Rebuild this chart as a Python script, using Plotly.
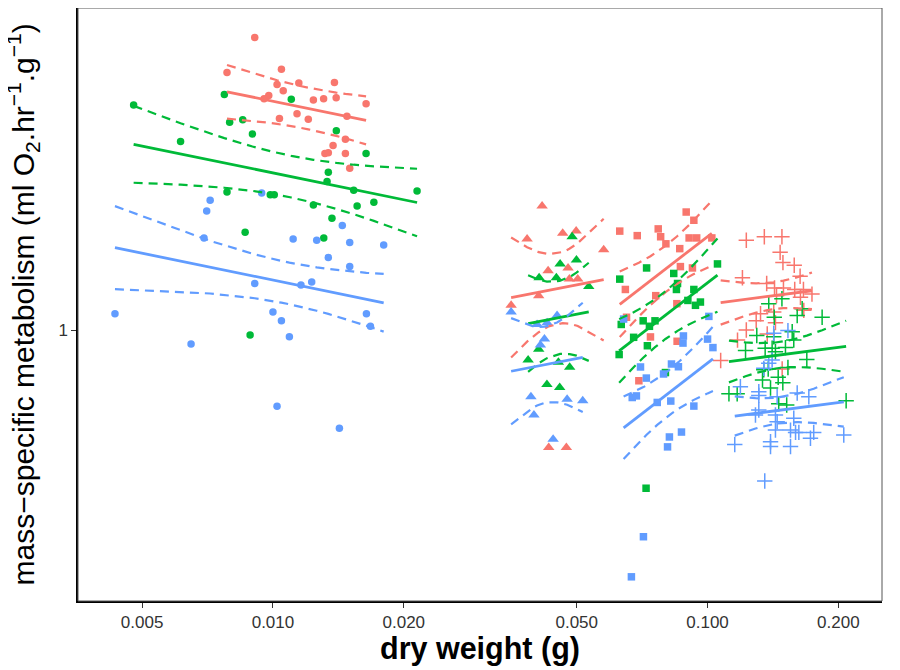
import numpy as np
import plotly.graph_objects as go

# ---------------- data: dry weight (g) and mass-specific metabolism ----------------
# species 1 (circles)
s1_red_x = [0.00908, 0.00784, 0.01046, 0.01022, 0.01056, 0.01147, 0.01385, 0.00978, 0.00954, 0.01239, 0.01308, 0.01398,
            0.01638, 0.0148, 0.01136, 0.01035, 0.01206, 0.01468, 0.01375, 0.01317, 0.01341, 0.01468, 0.01502]
s1_red_y = [4.72, 3.92, 3.99, 3.68, 3.56, 3.71, 3.72, 3.47, 3.41, 3.39, 3.41, 3.43,
            3.32, 3.11, 3.15, 3.07, 3.06, 2.75, 2.66, 2.55, 2.56, 2.55, 2.36]
s1_green_x = [0.00478, 0.00773, 0.01102, 0.00795, 0.00852, 0.00897, 0.00613, 0.01399, 0.01638, 0.01341, 0.01332, 0.01534,
              0.02146, 0.00784, 0.00986, 0.01007, 0.01239, 0.01562, 0.01707, 0.01367, 0.00863, 0.01309, 0.00886]
s1_green_y = [3.30, 3.49, 3.40, 3.01, 3.05, 2.83, 2.72, 2.88, 2.55, 2.31, 2.20, 2.10,
              2.09, 2.08, 2.05, 2.05, 1.94, 1.93, 1.97, 1.81, 1.68, 1.63, 0.974]
s1_blue_x = [0.00717, 0.00704, 0.00942, 0.00694, 0.01113, 0.01261, 0.01444, 0.01502, 0.01798, 0.01341, 0.01502, 0.00908,
             0.0116, 0.01228, 0.00433, 0.0100, 0.01046, 0.01641, 0.01676, 0.00648, 0.01091, 0.01022, 0.01422]
s1_blue_y = [1.99, 1.88, 2.07, 1.63, 1.62, 1.61, 1.74, 1.59, 1.57, 1.47, 1.40, 1.28,
             1.27, 1.29, 1.09, 1.10, 1.05, 1.09, 1.02, 0.928, 0.965, 0.667, 0.594]

# species 2 (triangles)
s2_red_x = [0.04162, 0.03844, 0.04642, 0.04985, 0.05768, 0.04297, 0.04776, 0.04809, 0.05027, 0.04088, 0.03532, 0.04311, 0.04733]
s2_red_y = [1.93, 1.62, 1.67, 1.69, 1.53, 1.37, 1.39, 1.31, 1.31, 1.20, 1.14, 0.536, 0.536]
s2_green_x = [0.0488, 0.04579, 0.04993, 0.04097, 0.04489, 0.05329, 0.04088, 0.03865, 0.04537, 0.04817, 0.0427, 0.04569]
s2_green_y = [1.64, 1.42, 1.45, 1.32, 1.32, 1.26, 0.903, 0.853, 0.843, 0.821, 0.749, 0.737]
s2_blue_x = [0.03532, 0.04506, 0.04053, 0.04274, 0.04214, 0.04125, 0.03923, 0.04752, 0.05162, 0.03986, 0.04412]
s2_blue_y = [1.10, 1.08, 1.03, 1.04, 0.953, 0.924, 0.702, 0.693, 0.687, 0.637, 0.560]

# species 3 (squares)
s3_red_x = [0.0893, 0.0930, 0.0628, 0.0689, 0.0770, 0.0780, 0.0802, 0.0907, 0.0944, 0.1023, 0.0863, 0.0866, 0.0923,
            0.0647, 0.0760, 0.0850, 0.0651, 0.0739, 0.0851, 0.0695]
s3_red_y = [1.87, 1.79, 1.69, 1.65, 1.71, 1.64, 1.58, 1.63, 1.63, 1.63, 1.54, 1.40, 1.39,
            1.24, 1.20, 1.15, 1.07, 0.964, 0.942, 0.764]
s3_green_x = [0.0724, 0.0628, 0.0836, 0.0853, 0.0848, 0.0930, 0.1054, 0.0901, 0.0963, 0.0938, 0.0711, 0.0735, 0.0757,
              0.0633, 0.0676, 0.0727, 0.0626, 0.0800, 0.0722]
s3_green_y = [1.39, 1.31, 1.35, 1.28, 1.24, 1.24, 1.42, 1.17, 1.16, 1.14, 1.05, 1.02, 1.05,
              1.03, 0.962, 0.920, 0.878, 0.798, 0.432]
s3_blue_x = [0.0641, 0.1007, 0.0880, 0.0878, 0.1000, 0.1029, 0.0701, 0.0723, 0.0826, 0.0857, 0.0792, 0.0671, 0.0686,
             0.0766, 0.0823, 0.0930, 0.0871, 0.0817, 0.0809, 0.0712, 0.0668]
s3_blue_y = [1.060, 1.075, 0.969, 0.933, 0.953, 0.911, 0.822, 0.775, 0.835, 0.823, 0.792, 0.699, 0.705,
             0.681, 0.686, 0.668, 0.582, 0.567, 0.538, 0.334, 0.270]

# species 4 (crosses)
s4_red_x = [0.1228, 0.1351, 0.1483, 0.1469, 0.1491, 0.1583, 0.1633, 0.1203, 0.1368, 0.1426, 0.1495, 0.1587, 0.1662,
            0.1739, 0.1441, 0.1636, 0.1324, 0.1420, 0.1665, 0.1294, 0.1433, 0.1228, 0.1372, 0.1172, 0.1072, 0.1485]
s4_red_y = [1.61, 1.64, 1.64, 1.51, 1.43, 1.41, 1.33, 1.32, 1.28, 1.25, 1.25, 1.24, 1.24,
            1.21, 1.20, 1.19, 1.09, 1.10, 1.11, 1.05, 1.04, 1.00, 0.979, 0.948, 0.851, 0.813]
s4_green_x = [0.1383, 0.1483, 0.1651, 0.1424, 0.1608, 0.1835, 0.1566, 0.1298, 0.1420, 0.1579, 0.1223, 0.1357, 0.1408,
              0.1511, 0.1433, 0.1692, 0.1347, 0.1379, 0.1531, 0.1338, 0.1454, 0.1490, 0.1396, 0.1120, 0.1170, 0.1458,
              0.1521, 0.2084]
s4_green_y = [1.15, 1.18, 1.12, 1.07, 1.08, 1.07, 0.991, 0.971, 0.965, 0.948, 0.897, 0.908, 0.908,
              0.911, 0.891, 0.855, 0.810, 0.813, 0.820, 0.767, 0.778, 0.756, 0.735, 0.713, 0.713, 0.676,
              0.672, 0.687]
s4_blue_x = [0.1420, 0.1531, 0.1383, 0.1408, 0.1347, 0.1190, 0.1312, 0.1312, 0.1608, 0.1710, 0.1446, 0.1312, 0.1289,
             0.1433, 0.1446, 0.1579, 0.1433, 0.1552, 0.1594, 0.1622, 0.1755, 0.1725, 0.2058, 0.1396, 0.1396, 0.1552,
             0.1155, 0.1354]
s4_blue_y = [0.983, 0.997, 0.838, 0.853, 0.816, 0.740, 0.721, 0.707, 0.716, 0.702, 0.702, 0.654, 0.637,
             0.637, 0.615, 0.626, 0.588, 0.588, 0.581, 0.581, 0.581, 0.563, 0.573, 0.553, 0.539, 0.539,
             0.545, 0.449]

x_ticks = [0.005, 0.01, 0.02, 0.05, 0.1, 0.2]
x_tick_labels = ["0.005", "0.010", "0.020", "0.050", "0.100", "0.200"]
y_ticks = [1]
y_tick_labels = ["1"]
x_limits = [0.00356, 0.252]
y_limits = [0.2375, 5.52]
x_title = "<b>dry weight (g)</b>"
y_title = "mass\u2212specific metabolism (ml O<sub>2</sub>.hr<sup>\u22121</sup>.g<sup>\u22121</sup>)"

colors = {"red": "#F8766D", "green": "#00BA38", "blue": "#619CFF"}
species = [
    ("circle", 7.5, [("red", s1_red_x, s1_red_y), ("green", s1_green_x, s1_green_y), ("blue", s1_blue_x, s1_blue_y)]),
    ("triangle-up", 10, [("red", s2_red_x, s2_red_y), ("green", s2_green_x, s2_green_y), ("blue", s2_blue_x, s2_blue_y)]),
    ("square", 7.5, [("red", s3_red_x, s3_red_y), ("green", s3_green_x, s3_green_y), ("blue", s3_blue_x, s3_blue_y)]),
    ("cross-thin-open", 11, [("red", s4_red_x, s4_red_y), ("green", s4_green_x, s4_green_y), ("blue", s4_blue_x, s4_blue_y)]),
]


def t975(df):
    z = 1.959964
    return z + (z ** 3 + z) / (4 * df) + (5 * z ** 5 + 16 * z ** 3 + 3 * z) / (96 * df ** 2)


fig = go.Figure()

# points
for symbol, size, groups in species:
    for col, xs, ys in groups:
        mk = dict(symbol=symbol, size=size, color=colors[col])
        if symbol.startswith("cross"):
            mk["line"] = dict(color=colors[col], width=1.5)
        fig.add_trace(go.Scatter(x=xs, y=ys, mode="markers", marker=mk, hoverinfo="skip", showlegend=False))

# ANCOVA per species: common slope, separate intercepts per treatment; 95% confidence bands
for symbol, size, groups in species:
    lx_all, ly_all, gi = [], [], []
    for k, (col, xs, ys) in enumerate(groups):
        lx_all += list(np.log10(xs))
        ly_all += list(np.log10(ys))
        gi += [k] * len(xs)
    lx_all = np.array(lx_all)
    ly_all = np.array(ly_all)
    gi = np.array(gi)
    G = len(groups)
    X = np.zeros((len(lx_all), G + 1))
    for k in range(G):
        X[gi == k, k] = 1.0
    X[:, G] = lx_all
    beta, *_ = np.linalg.lstsq(X, ly_all, rcond=None)
    resid = ly_all - X @ beta
    df = len(ly_all) - (G + 1)
    s2 = float(resid @ resid) / df
    cov = s2 * np.linalg.inv(X.T @ X)
    tq = t975(df)
    for k, (col, xs, ys) in enumerate(groups):
        xg = np.sort(np.unique(np.log10(xs)))
        V = np.zeros((len(xg), G + 1))
        V[:, k] = 1.0
        V[:, G] = xg
        fit = V @ beta
        se = np.sqrt(np.einsum("ij,jk,ik->i", V, cov, V))
        xv = 10 ** xg
        for yy, dash, w in [(fit + tq * se, "9px,6px", 2.2), (fit - tq * se, "9px,6px", 2.2), (fit, "solid", 2.8)]:
            fig.add_trace(go.Scatter(x=xv, y=10 ** yy, mode="lines",
                                     line=dict(color=colors[col], width=w, dash=dash),
                                     hoverinfo="skip", showlegend=False))

# the page adds an 8px body margin, so the figure is drawn 8px smaller on each axis
font_family = "Liberation Sans, Arial, sans-serif"
axis_common = dict(showgrid=False, zeroline=False, showline=True, linecolor="black", linewidth=1.5,
                   ticks="outside", ticklen=5, tickwidth=1, tickcolor="#333", automargin=False,
                   tickfont=dict(size=17, color="#333"))
fig.update_layout(
    width=892, height=662,
    margin=dict(l=70, r=18, t=0, b=69, autoexpand=False),
    paper_bgcolor="white", plot_bgcolor="white",
    font=dict(family=font_family, color="black"),
    showlegend=False,
    xaxis=dict(type="log", range=[np.log10(x_limits[0]), np.log10(x_limits[1])],
               tickvals=x_ticks, ticktext=x_tick_labels, **axis_common),
    yaxis=dict(type="log", range=[np.log10(y_limits[0]), np.log10(y_limits[1])],
               tickvals=y_ticks, ticktext=y_tick_labels, **axis_common),
    shapes=[dict(type="rect", xref="paper", yref="paper", x0=0, y0=0, x1=1, y1=1,
                 line=dict(color="#555", width=1), fillcolor="rgba(0,0,0,0)", layer="above")],
    annotations=[
        dict(text=x_title, xref="paper", yref="paper", x=0.5, y=-47 / 593, xanchor="center", yanchor="middle",
             showarrow=False, font=dict(size=30.5, color="black")),
        dict(text=y_title, xref="paper", yref="paper", x=-55 / 804, y=0.5, xanchor="center", yanchor="middle",
             textangle=-90, showarrow=False, font=dict(size=30, color="black")),
    ],
)

fig.write_html("out.html")
